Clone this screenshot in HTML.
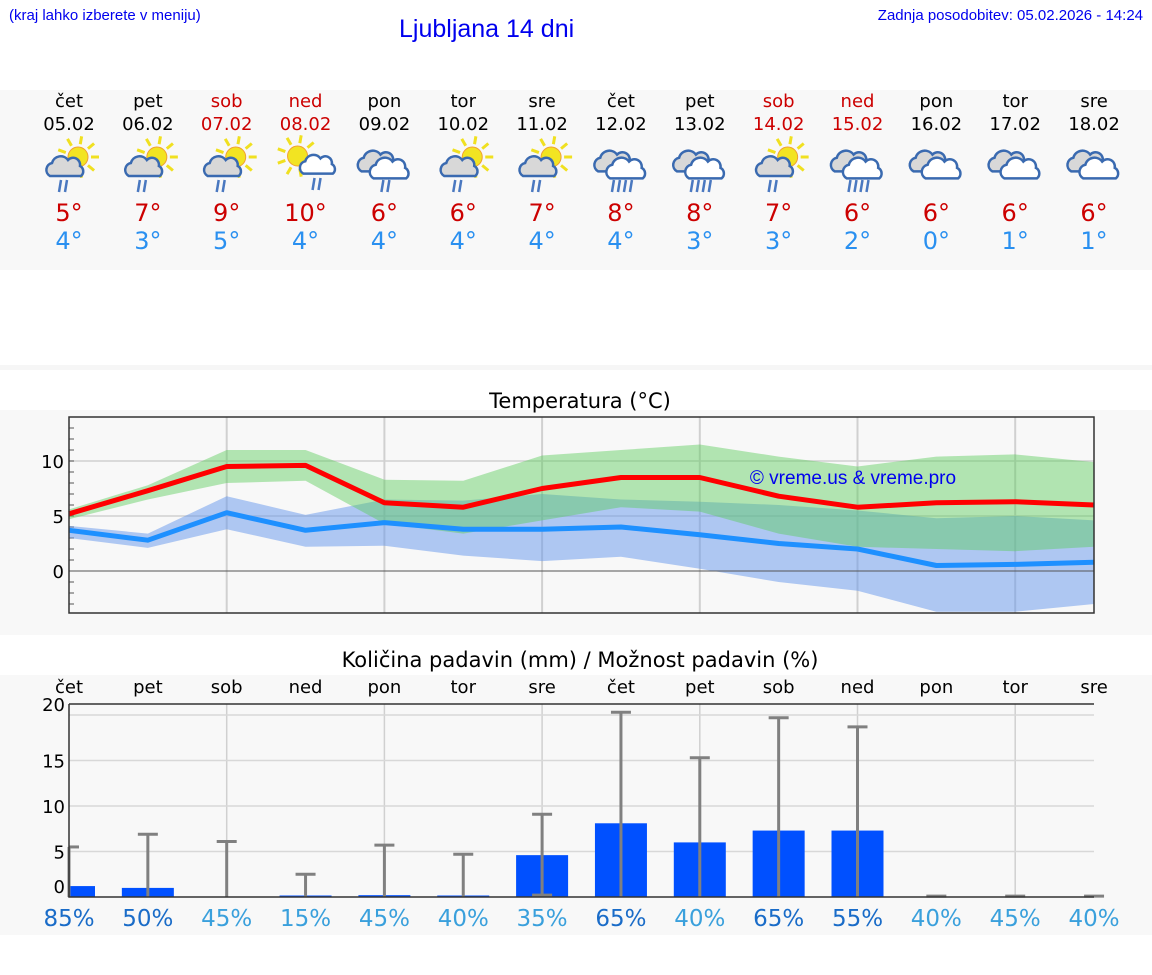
<!DOCTYPE html>
<html><head><meta charset="utf-8">
<style>
body{margin:0;width:1152px;height:975px;background:#fff;font-family:"DejaVu Sans","Liberation Sans",sans-serif;position:relative;overflow:hidden}
.abs{position:absolute}
</style></head>
<body>
<div class="abs" style="left:9px;top:7px;font-size:15px;color:#0000ee;font-family:'Liberation Sans',sans-serif">(kraj lahko izberete v meniju)</div>
<div class="abs" style="left:399px;top:15px;font-size:25px;color:#0000ee;font-family:'Liberation Sans',sans-serif">Ljubljana 14 dni</div>
<div class="abs" style="right:9px;top:7px;font-size:15px;color:#0000ee;font-family:'Liberation Sans',sans-serif">Zadnja posodobitev: 05.02.2026 - 14:24</div>
<svg class="abs" style="left:0;top:0" width="1152" height="975" id="main">
<rect x="0" y="90" width="1152" height="180" fill="#f8f8f8"/>
<rect x="0" y="365" width="1152" height="5" fill="#f6f6f6"/>
<rect x="0" y="410" width="1152" height="225" fill="#f8f8f8"/>
<rect x="0" y="675" width="1152" height="260" fill="#f8f8f8"/>
<g id="days"></g>
<text x="580" y="408" font-size="21" text-anchor="middle" fill="#000">Temperatura (°C)</text>
<g id="temp"></g>
<text x="580" y="667" font-size="21" text-anchor="middle" fill="#000">Količina padavin (mm) / Možnost padavin (%)</text>
<g id="prec"></g>
</svg>
<script>
const dayNames=["čet","pet","sob","ned","pon","tor","sre","čet","pet","sob","ned","pon","tor","sre"];
const dates=["05.02","06.02","07.02","08.02","09.02","10.02","11.02","12.02","13.02","14.02","15.02","16.02","17.02","18.02"];
const iconTypes=["A","A","A","B","C","A","A","C","C","A","C","D","D","D"];
const maxT=[5,7,9,10,6,6,7,8,8,7,6,6,6,6];
const minT=[4,3,5,4,4,4,4,4,3,3,2,0,1,1];
const maxLine=[5.2,7.3,9.5,9.6,6.2,5.8,7.5,8.5,8.5,6.8,5.8,6.2,6.3,6.0];
const maxHi=[5.6,7.8,11,11,8.3,8.2,10.5,11,11.5,10.4,9.5,10.4,10.6,9.9];
const maxLo=[4.7,6.5,8,8.2,4.3,3.4,4.6,5.8,5.4,3.4,2.2,2.0,1.8,2.2];
const minLine=[3.7,2.8,5.3,3.7,4.4,3.8,3.8,4.0,3.3,2.5,2.0,0.5,0.6,0.8];
const minHi=[4.1,3.4,6.8,5.1,6.5,6.4,7.0,6.5,6.3,6.0,5.5,4.8,5.0,4.6];
const minLo=[3.0,2.1,3.8,2.2,2.3,1.4,0.9,1.3,0.2,-1.0,-1.8,-3.7,-3.7,-3.0];
const tempTicks=[0,5,10];
const precip=[1.2,1.0,0,0.1,0.2,0.1,4.6,8.1,6.0,7.3,7.3,0,0,0];
const precipHi=[5.5,6.9,6.1,2.5,5.7,4.7,9.1,20.3,15.3,19.7,18.7,0.1,0.1,0.1];
const precipLo=[0,0,0,0,0,0,0.2,0,0,0,0,0,0,0];
const chance=[85,50,45,15,45,40,35,65,40,65,55,40,45,40];
const precipTicks=[0,5,10,15,20];
const NS="http://www.w3.org/2000/svg";
function mk(parent,tag,attrs){const e=document.createElementNS(NS,tag);for(const k in attrs)e.setAttribute(k,attrs[k]);parent.appendChild(e);return e;}
const X=i=>69+i*78.85;
const weekend=i=>dayNames[i]==="sob"||dayNames[i]==="ned";
const days=document.getElementById('days');
function sun(g,cx,cy,r){for(let a=0;a<360;a+=40){const rad=a*Math.PI/180;mk(g,'line',{x1:cx+Math.cos(rad)*(r+3),y1:cy+Math.sin(rad)*(r+3),x2:cx+Math.cos(rad)*(r+11),y2:cy+Math.sin(rad)*(r+11),stroke:'#f0e020','stroke-width':3});}
mk(g,'circle',{cx:cx,cy:cy,r:r,fill:'#f2e422',stroke:'#f0a030','stroke-width':1});}
function cloud(g,cx,cy,s,fill){const p=`M${cx-16*s},${cy+8*s} a${7*s},${7*s} 0 0 1 ${2*s},${-13*s} a${9*s},${9*s} 0 0 1 ${16*s},${-3*s} a${7*s},${7*s} 0 0 1 ${12*s},${6*s} a${6*s},${6*s} 0 0 1 ${1*s},${10*s} z`;
mk(g,'path',{d:p,fill:fill,stroke:'#3a6ab0','stroke-width':2.5});}
function rain(g,cx,cy,n){for(let k=0;k<n;k++){const x=cx+(k-(n-1)/2)*6;mk(g,'line',{x1:x+2,y1:cy,x2:x,y2:cy+12,stroke:'#4a78c0','stroke-width':2.5});}}
for(let i=0;i<14;i++){
 const x=X(i);const col=weekend(i)?'#cc0000':'#000';
 const g=mk(days,'g',{});
 
 
 const t1=mk(g,'text',{x:x,y:107,'font-size':18,'text-anchor':'middle',fill:col});t1.textContent=dayNames[i];
 const t2=mk(g,'text',{x:x,y:130,'font-size':18,'text-anchor':'middle',fill:col});t2.textContent=dates[i];
 const ic=mk(g,'g',{});
 
 
 const ty=iconTypes[i];
 if(ty==="A"){sun(ic,x+9,157,10);cloud(ic,x-3,168,1.0,'#d8d8d8');rain(ic,x-7,180,2);}
 else if(ty==="B"){sun(ic,x-8,156,10);cloud(ic,x+13,166,0.95,'#fff');rain(ic,x+10,178,2);}
 else if(ty==="C"){cloud(ic,x-6,163,1.05,'#d8d8d8');cloud(ic,x+6,170,1.05,'#fff');rain(ic,x,180,i===4?2:4);}
 else {cloud(ic,x-6,163,1.05,'#d8d8d8');cloud(ic,x+6,170,1.05,'#fff');}
 const t3=mk(g,'text',{x:x,y:221,'font-size':24,'text-anchor':'middle',fill:'#cc0000'});t3.textContent=maxT[i]+'°';
 const t4=mk(g,'text',{x:x,y:249,'font-size':24,'text-anchor':'middle',fill:'#2a90f0'});t4.textContent=minT[i]+'°';
}
const tg=document.getElementById('temp');
const TY=v=>571-v*11;
const L=69,R=1094,T=417,B=613;
for(let i=2;i<14;i+=2){mk(tg,'line',{x1:X(i),y1:T,x2:X(i),y2:B,stroke:'#d0d0d0','stroke-width':2});}
for(const v of tempTicks){if(v!==0)mk(tg,'line',{x1:L,y1:TY(v),x2:R,y2:TY(v),stroke:'#d0d0d0','stroke-width':1.5});
 const t=mk(tg,'text',{x:L-5,y:TY(v)+7,'font-size':18,'text-anchor':'end',fill:'#000'});t.textContent=v;}
for(let v=-3;v<=13;v++)mk(tg,'line',{x1:L,y1:TY(v),x2:L+5,y2:TY(v),stroke:'#555','stroke-width':1});
function band(hi,lo,fill,name){let d='M'+hi.map((v,i)=>X(i)+','+TY(v)).join(' L')+' L'+lo.map((v,i)=>[X(i),TY(v)]).reverse().map(p=>p.join(',')).join(' L')+' Z';
 const p=mk(tg,'path',{d:d,fill:fill});}
band(minHi,minLo,'rgba(100,150,235,0.5)','min-temp-range');
band(maxHi,maxLo,'rgba(90,205,90,0.45)','max-temp-range');
mk(tg,'line',{x1:L,y1:TY(0),x2:R,y2:TY(0),stroke:'#555','stroke-width':1});
function line(vals,col,name){const p=mk(tg,'polyline',{points:vals.map((v,i)=>X(i)+','+TY(v)).join(' '),fill:'none',stroke:col,'stroke-width':5,'stroke-linejoin':'round'});}
line(minLine,'#1e90ff','min-temp-line');
line(maxLine,'#ff0000','max-temp-line');
mk(tg,'rect',{x:L,y:T,width:R-L,height:B-T,fill:'none',stroke:'#333','stroke-width':1.5});
const wm=mk(tg,'text',{x:853,y:484,'font-size':19,'text-anchor':'middle',fill:'#0000ee','font-family':'Liberation Sans'});wm.textContent='© vreme.us & vreme.pro';

const pg=document.getElementById('prec');
const PY=v=>897-v*9.1;
const PT=704;
for(let i=2;i<14;i+=2)mk(pg,'line',{x1:X(i),y1:PT,x2:X(i),y2:897,stroke:'#d0d0d0','stroke-width':1.5});
for(const v of precipTicks){if(v>0)mk(pg,'line',{x1:L,y1:PY(v),x2:R,y2:PY(v),stroke:'#d8d8d8','stroke-width':1.5});
 const t=mk(pg,'text',{x:L-4,y:v===20?711:(v===0?893:PY(v)+7),'font-size':18,'text-anchor':'end',fill:'#000'});t.textContent=v;}
for(let i=0;i<14;i++){
 const x=X(i);
 const left=Math.max(L,x-26), cl=Math.max(L,x-10);
 const d=mk(pg,'text',{x:x,y:693,'font-size':18,'text-anchor':'middle',fill:'#000'});d.textContent=dayNames[i];
 const h=Math.max(precip[i]*9.1,precip[i]>0?1.5:0);
 if(h>0){const b=mk(pg,'rect',{x:left,y:897-h,width:x+26-left,height:h,fill:'#0050ff'});}
 const e=mk(pg,'g',{stroke:'#808080','stroke-width':3});
 
 
 mk(e,'line',{x1:x,y1:PY(precipHi[i]),x2:x,y2:PY(precipLo[i])});
 mk(e,'line',{x1:cl,y1:PY(precipHi[i]),x2:x+10,y2:PY(precipHi[i])});
 if(precipLo[i]>0)mk(e,'line',{x1:cl,y1:PY(precipLo[i]),x2:x+10,y2:PY(precipLo[i])});
 const c=mk(pg,'text',{x:x,y:926,'font-size':23,'text-anchor':'middle',fill:chance[i]>=50?'#1a6cc8':'#3aa0dc'});c.textContent=chance[i]+'%';
 
}
mk(pg,'path',{d:`M${L},${PT} L${R},${PT} M${L},${PT} L${L},897 L${R},897`,fill:'none',stroke:'#333','stroke-width':1.5});
</script>
</body></html>
